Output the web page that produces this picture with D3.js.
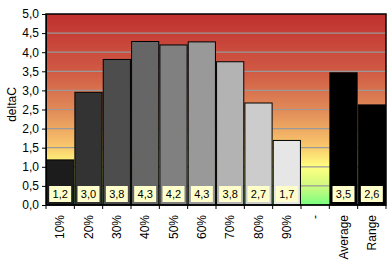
<!DOCTYPE html>
<html>
<head>
<meta charset="utf-8">
<script src="https://cdn.jsdelivr.net/npm/d3@7"></script>
<style>
  body { margin: 0; background: #fff; }
  text { font-family: "Liberation Sans", Arial, sans-serif; }
</style>
</head>
<body>
<div id="chart"></div>
<script>
// categories and values
const categories = ["10%", "20%", "30%", "40%", "50%", "60%", "70%", "80%", "90%", "-", "Average", "Range"];
const values = [1.18, 2.95, 3.81, 4.28, 4.19, 4.27, 3.75, 2.67, 1.69, null, 3.46, 2.62];
const valueLabels = ["1,2", "3,0", "3,8", "4,3", "4,2", "4,3", "3,8", "2,7", "1,7", "", "3,5", "2,6"];
const barFills = ["#1c1c1c", "#333333", "#4d4d4d", "#666666", "#808080", "#999999", "#b3b3b3", "#cccccc", "#e6e6e6", "none", "#000000", "#000000"];
const yTicks = [0, 0.5, 1, 1.5, 2, 2.5, 3, 3.5, 4, 4.5, 5];

const width = 392, height = 265;
const margin = { top: 14, right: 6, bottom: 60, left: 46 };
const w = width - margin.left - margin.right;
const h = height - margin.top - margin.bottom;

const svg = d3.select("#chart").append("svg")
    .attr("width", width)
    .attr("height", height);

// background gradient (red top -> green bottom)
const grad = svg.append("defs").append("linearGradient")
    .attr("id", "bg").attr("x1", 0).attr("y1", 0).attr("x2", 0).attr("y2", 1);
[[0, "#c0302f"], [0.3, "#d05a44"], [0.5, "#e08a58"], [0.68, "#f8c26a"], [0.8, "#ffff80"], [0.9, "#d0fa80"], [1, "#78ff80"]]
    .forEach(s => grad.append("stop").attr("offset", s[0]).attr("stop-color", s[1]));

const g = svg.append("g").attr("transform", `translate(${margin.left},${margin.top})`);

const x = d3.scaleBand().domain(categories).range([0, w]).paddingInner(0.04).paddingOuter(0.02);
const y = d3.scaleLinear().domain([0, 5]).range([h, 0]);

g.append("rect").attr("width", w).attr("height", h).attr("fill", "url(#bg)");

// gridlines
g.selectAll(".grid").data(yTicks.slice(1, -1)).enter().append("line")
    .attr("x1", 0).attr("x2", w)
    .attr("y1", d => y(d)).attr("y2", d => y(d))
    .attr("stroke", "#999").attr("stroke-width", 1.2);

// bars
const data = categories.map((c, i) => ({ cat: c, v: values[i], label: valueLabels[i], fill: barFills[i] }));
g.selectAll(".bar").data(data.filter(d => d.v != null)).enter().append("rect")
    .attr("x", d => x(d.cat))
    .attr("y", d => y(d.v))
    .attr("width", x.bandwidth())
    .attr("height", d => y(0) - y(d.v))
    .attr("fill", d => d.fill)
    .attr("stroke", "#000").attr("stroke-width", 1);

// value labels
const lab = g.selectAll(".lab").data(data.filter(d => d.v != null)).enter().append("g")
    .attr("transform", d => `translate(${x(d.cat) + x.bandwidth() / 2},${y(0) - 11})`);
lab.append("rect").attr("x", -11).attr("y", -8).attr("width", 22).attr("height", 16)
    .attr("fill", "#ffffcc");
lab.append("text").attr("text-anchor", "middle").attr("dy", "0.36em")
    .attr("font-size", 11).attr("fill", "#000").text(d => d.label);

// frame
g.append("rect").attr("width", w).attr("height", h)
    .attr("fill", "none").attr("stroke", "#000").attr("stroke-width", 1.5);

// y axis
const yAxis = g.append("g").call(d3.axisLeft(y).tickValues(yTicks).tickSize(4)
    .tickFormat(d => d3.format(".1f")(d).replace(".", ",")));
yAxis.select(".domain").attr("stroke", "#000");
yAxis.selectAll("text").attr("font-size", 12).attr("fill", "#000").attr("font-family", "Liberation Sans, Arial, sans-serif");

// x axis with ticks on category boundaries
const xAxisG = g.append("g").attr("transform", `translate(0,${h})`);
xAxisG.append("line").attr("x1", 0).attr("x2", w).attr("stroke", "#000");
const step = w / categories.length;
xAxisG.selectAll(".tk").data(d3.range(categories.length + 1)).enter().append("line")
    .attr("x1", i => i * step).attr("x2", i => i * step)
    .attr("y1", 0).attr("y2", 4).attr("stroke", "#000");
xAxisG.selectAll(".xl").data(categories).enter().append("text")
    .attr("transform", d => `translate(${x(d) + x.bandwidth() / 2 + 4},${10}) rotate(-90)`)
    .attr("text-anchor", "end")
    .attr("font-size", 12).attr("fill", "#000")
    .text(d => d);

// y title
svg.append("text")
    .attr("transform", `translate(16,${margin.top + h / 2 - 5}) rotate(-90)`)
    .attr("text-anchor", "middle").attr("font-size", 12).attr("fill", "#000")
    .text("deltaC");
</script>
</body>
</html>
